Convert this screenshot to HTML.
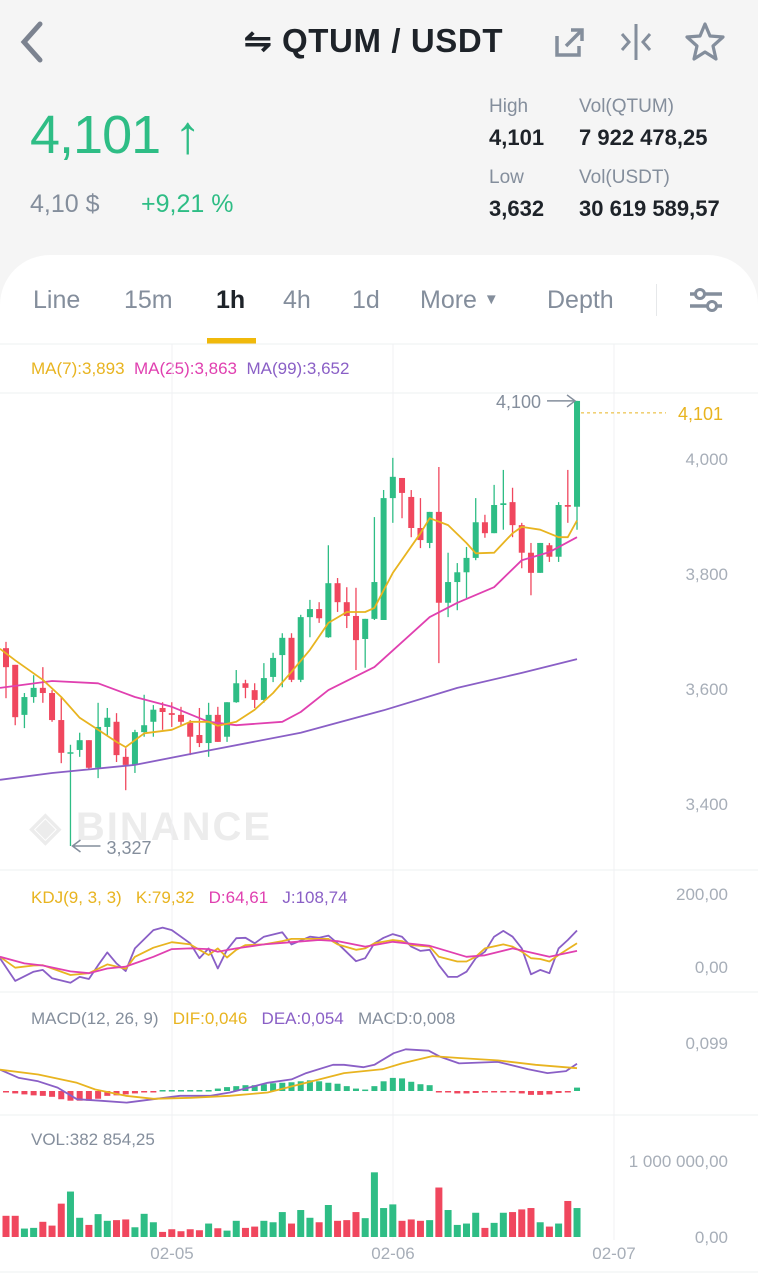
<!DOCTYPE html>
<html><head><meta charset="utf-8"><style>
*{margin:0;padding:0;box-sizing:border-box}
body{width:758px;height:1280px;background:#f5f5f5;font-family:"Liberation Sans",sans-serif;position:relative;overflow:hidden}
.a{position:absolute;white-space:nowrap}
.g{color:#848e9c}
</style></head><body>
<div class="a" style="left:0;top:0;width:758px;height:90px">
<svg class="a" style="left:14px;top:20px" width="34" height="44"><path d="M26 4 L10 22 L26 40" stroke="#7c8390" stroke-width="5" fill="none" stroke-linecap="round"/></svg>
<div class="a" style="left:244px;top:21px;font-size:33px;font-weight:bold;color:#1e2329;letter-spacing:0.6px">⇋ QTUM / USDT</div>
<svg class="a" style="left:552px;top:24px" width="36" height="36"><path d="M5 12 V31 H27 V22" stroke="#848e9c" stroke-width="3.5" fill="none"/><path d="M14 22 L29 7 M19 6 H30 V17" stroke="#848e9c" stroke-width="3.5" fill="none"/></svg>
<svg class="a" style="left:616px;top:22px" width="42" height="40"><path d="M20 2 V38" stroke="#848e9c" stroke-width="3"/><path d="M6 12 L13 20 L6 28 M34 12 L27 20 L34 28" stroke="#848e9c" stroke-width="3" fill="none"/></svg>
<svg class="a" style="left:683px;top:20px" width="44" height="42"><path d="M22 4 L27 16 L40 17 L30 26 L33 39 L22 32 L11 39 L14 26 L4 17 L17 16 Z" stroke="#848e9c" stroke-width="3.2" fill="none" stroke-linejoin="round"/></svg>
</div>
<div class="a" style="left:30px;top:104px;font-size:54px;color:#2ebd85;letter-spacing:-1px">4,101 <span style="font-weight:bold">↑</span></div>
<div class="a g" style="left:30px;top:190px;font-size:25px">4,10 $</div>
<div class="a" style="left:141px;top:190px;font-size:25px;color:#2ebd85">+9,21 %</div>
<div class="a g" style="left:489px;top:96px;font-size:19px">High</div>
<div class="a" style="left:489px;top:125px;font-size:22px;color:#1e2329;font-weight:bold">4,101</div>
<div class="a g" style="left:579px;top:96px;font-size:19px">Vol(QTUM)</div>
<div class="a" style="left:579px;top:125px;font-size:22px;color:#1e2329;font-weight:bold">7 922 478,25</div>
<div class="a g" style="left:489px;top:167px;font-size:19px">Low</div>
<div class="a" style="left:489px;top:196px;font-size:22px;color:#1e2329;font-weight:bold">3,632</div>
<div class="a g" style="left:579px;top:167px;font-size:19px">Vol(USDT)</div>
<div class="a" style="left:579px;top:196px;font-size:22px;color:#1e2329;font-weight:bold">30 619 589,57</div>

<div class="a" style="left:0;top:255px;width:758px;height:1025px;background:#fff;border-radius:50px 50px 0 0"></div>
<div class="a g" style="left:33px;top:286px;font-size:25px">Line</div>
<div class="a g" style="left:124px;top:286px;font-size:25px">15m</div>
<div class="a" style="left:216px;top:286px;font-size:25px;color:#1e2329;font-weight:bold">1h</div>
<div class="a" style="left:207px;top:338px;width:49px;height:6px;background:#f0b90b"></div>
<div class="a g" style="left:283px;top:286px;font-size:25px">4h</div>
<div class="a g" style="left:352px;top:286px;font-size:25px">1d</div>
<div class="a g" style="left:420px;top:286px;font-size:25px">More <span style="font-size:15px;position:relative;top:-4px">▼</span></div>
<div class="a g" style="left:547px;top:286px;font-size:25px">Depth</div>
<div class="a" style="left:656px;top:284px;width:1px;height:32px;background:#e6e8ea"></div>
<svg class="a" style="left:688px;top:284px" width="36" height="32"><path d="M2 10 H34 M2 22 H34" stroke="#848e9c" stroke-width="3.5"/><circle cx="12" cy="10" r="4.5" fill="#fff" stroke="#848e9c" stroke-width="3"/><circle cx="24" cy="22" r="4.5" fill="#fff" stroke="#848e9c" stroke-width="3"/></svg>

<div class="a" style="left:31px;top:359px;font-size:17px"><span style="color:#e8b420">MA(7):3,893</span>&nbsp;&nbsp;<span style="color:#e040b0">MA(25):3,863</span>&nbsp;&nbsp;<span style="color:#8a5fc6">MA(99):3,652</span></div>
<div class="a" style="left:31px;top:888px;font-size:17px"><span style="color:#e8b420">KDJ(9, 3, 3)&nbsp;&nbsp;&nbsp;K:79,32</span>&nbsp;&nbsp;&nbsp;<span style="color:#e040b0">D:64,61</span>&nbsp;&nbsp;&nbsp;<span style="color:#8a5fc6">J:108,74</span></div>
<div class="a" style="left:31px;top:1009px;font-size:17px"><span style="color:#848e9c">MACD(12, 26, 9)</span>&nbsp;&nbsp;&nbsp;<span style="color:#e8b420">DIF:0,046</span>&nbsp;&nbsp;&nbsp;<span style="color:#8a5fc6">DEA:0,054</span>&nbsp;&nbsp;&nbsp;<span style="color:#848e9c">MACD:0,008</span></div>
<div class="a g" style="left:31px;top:1130px;font-size:17px">VOL:382 854,25</div>
<div class="a" style="left:30px;top:804px;font-size:40px;font-weight:bold;color:#ececec;letter-spacing:2px">◈ BINANCE</div>

<svg class="a" id="chart" style="left:0;top:0" width="758" height="1280"></svg>

<script>
// price data (milli-USDT)
const opens=[3671,3642,3555,3586,3602,3593,3546,3489,3494,3511,3463,3534,3543,3482,3468,3525,3543,3567,3558,3555,3541,3520,3506,3555,3517,3577,3610,3598,3581,3621,3659,3689,3616,3725,3739,3690,3784,3751,3727,3687,3722,3720,3932,3967,3934,3880,3854,3908,3750,3786,3803,3828,3890,3871,3920,3925,3885,3837,3802,3850,3830,3920,3917];
const highs=[3682,3642,3593,3624,3638,3598,3586,3503,3524,3511,3576,3567,3558,3497,3529,3590,3572,3577,3577,3569,3546,3567,3576,3569,3577,3633,3616,3610,3645,3663,3697,3697,3729,3755,3751,3850,3793,3777,3776,3722,3899,3946,4002,3967,3946,3932,3908,3986,3837,3819,3847,3932,3903,3955,3981,3950,3889,3854,3854,3854,3925,3981,4101];
const lows=[3584,3537,3532,3576,3576,3543,3471,3327,3482,3461,3445,3520,3473,3424,3454,3517,3517,3529,3534,3537,3485,3499,3482,3508,3508,3576,3584,3567,3576,3612,3603,3612,3612,3690,3715,3689,3734,3706,3633,3637,3720,3720,3889,3897,3864,3845,3845,3645,3725,3737,3758,3824,3863,3871,3877,3864,3810,3763,3802,3821,3821,3889,3877];
const closes=[3638,3551,3586,3602,3593,3546,3489,3490,3511,3463,3534,3550,3485,3468,3525,3537,3564,3560,3555,3543,3517,3506,3555,3508,3577,3610,3602,3581,3619,3654,3689,3616,3725,3739,3723,3784,3751,3727,3685,3722,3786,3932,3969,3941,3880,3859,3908,3750,3786,3803,3828,3890,3871,3920,3923,3885,3837,3802,3854,3830,3920,3917,4101];
const volumes=[279,279,111,120,200,150,439,598,253,159,301,213,222,231,128,305,194,67,102,76,102,89,177,115,84,213,120,137,213,194,328,177,355,253,194,421,213,222,328,248,851,381,429,213,231,213,222,651,355,159,177,319,120,186,319,328,363,381,194,137,177,474,381];
const ma7Idx=[-1,1,4,6,8,10,12,13,15,18,20,22,23,25,27,29,31,33,35,37,39,40,42,45,46,48,50,51,53,55,56,58,60,61,62];
const ma7Val=[3670,3650,3616,3586,3550,3529,3508,3499,3523,3529,3543,3543,3536,3543,3564,3593,3630,3668,3715,3734,3734,3741,3802,3871,3897,3885,3854,3836,3837,3871,3882,3877,3864,3864,3893];
const ma25Idx=[-1,5,10,14,18,22,25,30,32,35,40,46,49,53,56,59,62];
const ma25Val=[3602,3614,3610,3586,3569,3543,3537,3543,3560,3598,3638,3725,3750,3777,3824,3838,3864];
const ma99Idx=[-1,5,14,21,32,41,49,56,62];
const ma99Val=[3442,3454,3468,3490,3524,3563,3602,3628,3652];
const priceTicks=[4000,3800,3600,3400];
const kIdx=[-1,1,3,4,7,9,11,13,14,16,18,20,21,22,23,24,25,26,28,30,31,33,35,36,38,39,40,42,43,44,46,47,49,50,51,52,54,55,56,57,58,59,60,62];
const kVal=[28,-2,4,5,-22,-17,7,-5,28,53,68,62,47,33,51,26,47,60,62,71,77,77,77,62,47,51,65,74,71,60,56,28,15,15,28,51,62,56,42,24,22,15,33,65];
const dIdx=[-1,2,4,7,9,11,13,16,18,20,22,23,25,28,31,34,36,39,42,46,50,52,55,59,62];
const dVal=[28,10,4,-12,-17,-4,1,28,49,51,49,42,51,62,68,74,71,56,69,58,28,32,51,28,44];
const jIdx=[-1,1,3,4,5,7,8,9,10,11,12,13,14,16,17,18,20,21,22,23,24,25,26,27,28,30,31,33,34,35,36,38,39,40,41,42,43,44,45,46,47,48,49,50,51,52,53,54,55,56,57,58,59,60,61,62];
const jVal=[24,-38,-13,-8,-31,-43,-27,-33,5,40,10,-11,51,101,108,101,65,24,51,-4,47,79,80,65,83,95,62,83,80,86,65,16,24,65,80,90,83,56,44,47,5,-27,-27,-13,24,42,83,99,83,51,-20,-8,-17,51,74,100];
const kdjTicks=["200,00","0,00"];
const difIdx=[-0.65,3.5,7.7,9.7,13,16,20.1,24.3,28.4,32.6,36.7,40.9,43,46.3,49.2,53.4,57.5,62];
const difVal=[44,34,17,3,-10,-16,-14,-10,-3,17,37,45,57,72,68,63,54,47];
const deaIdx=[-0.65,1.4,3.5,5.6,7.7,10.2,13.1,16,18.9,22.2,24.3,28.4,31,32.6,35.5,36.7,38.8,40,42.1,43.4,45.9,47.1,49.2,53.4,56.7,58.8,60.8,62];
const deaVal=[44,27,20,7,-17,-20,-24,-17,-10,-10,-3,17,24,37,54,54,49,54,78,86,83,71,57,60,45,37,41,56];
const macdHist=[-3,-5,-7,-9,-10,-12,-17,-20,-20,-20,-16,-10,-9,-7,-5,-3,-2,2,2,2,2,2,2,5,8,10,12,12,14,16,17,18,20,22,20,17,15,10,5,3,10,20,27,26,19,14,12,-2,-3,-5,-5,-4,-3,-2,-2,-3,-5,-8,-8,-7,-4,-2,7];
const dateLabels=["02-05","02-06","02-07"];

const NS="http://www.w3.org/2000/svg";
const svg=document.getElementById('chart');
const GREEN="#2ebd85",RED="#f0475e",Y="#e8b420",M="#e040b0",P="#8a5fc6";
const xAt=i=>6+i*9.21;
const yP=p=>459+(4000-p)*0.575;
const yK=v=>967-v*0.365;
const yM=v=>1091-v*0.485;
const yV=v=>1237-v*0.076;
function mk(tag,attrs){const e=document.createElementNS(NS,tag);for(const k in attrs)e.setAttribute(k,attrs[k]);svg.appendChild(e);return e;}

[344,393,870,992,1115].forEach(y=>{const l=mk('line',{x1:0,x2:758,y1:y,y2:y,stroke:'#eef0f2','stroke-width':1});

});
[172,393,614].forEach(x=>{const l=mk('line',{x1:x,x2:x,y1:344,y2:1240,stroke:'#f0f1f3','stroke-width':1});

});

priceTicks.forEach(p=>{const t=mk('text',{x:728,y:yP(p)+6,'text-anchor':'end','font-size':17,fill:'#a7aeb8','font-family':'Liberation Sans'});


t.textContent=(p/1000).toFixed(3).replace('.',',');});

opens.forEach((o,i)=>{const c=closes[i],col=c>=o?GREEN:RED,x=xAt(i);
const w=mk('line',{x1:x,x2:x,y1:yP(highs[i]),y2:yP(lows[i]),stroke:col,'stroke-width':1.3});


const top=yP(Math.max(o,c)),h=Math.max(1.5,Math.abs(yP(o)-yP(c)));
const b=mk('rect',{x:x-3,y:top,width:6,height:h,fill:col});

});

function line(idx,val,fy,col,name){const d=idx.map((i,k)=>(k?'L':'M')+Math.max(0,xAt(i)).toFixed(1)+' '+fy(val[k]).toFixed(1)).join(' ');
const p=mk('path',{d:d,stroke:col,fill:'none','stroke-width':1.8,'stroke-linejoin':'round'});

}
line(ma99Idx,ma99Val,yP,P,'ma99-line');
line(ma25Idx,ma25Val,yP,M,'ma25-line');
line(ma7Idx,ma7Val,yP,Y,'ma7-line');

const last=closes[closes.length-1];
const dl=mk('line',{x1:xAt(62)+4,x2:666,y1:yP(last)+12,y2:yP(last)+12,stroke:Y,'stroke-dasharray':'3,3','stroke-width':1});


const lt=mk('text',{x:678,y:yP(last)+19,'font-size':18,fill:Y,'font-family':'Liberation Sans'});


lt.textContent=(last/1000).toFixed(3).replace('.',',');
const hiI=highs.indexOf(Math.max(...highs)),loI=lows.indexOf(Math.min(...lows));
const hy=yP(highs[hiI]);
const ha=mk('path',{d:`M${xAt(hiI)-30} ${hy} H${xAt(hiI)-2} M${xAt(hiI)-10} ${hy-6} L${xAt(hiI)-2} ${hy} L${xAt(hiI)-10} ${hy+6}`,stroke:'#848e9c',fill:'none','stroke-width':1.5});


const ht=mk('text',{x:xAt(hiI)-36,y:hy+7,'text-anchor':'end','font-size':18,fill:'#848e9c','font-family':'Liberation Sans'});


ht.textContent="4,100";
const ly=yP(lows[loI]);
const la=mk('path',{d:`M${xAt(loI)+2} ${ly} H${xAt(loI)+30} M${xAt(loI)+10} ${ly-6} L${xAt(loI)+2} ${ly} L${xAt(loI)+10} ${ly+6}`,stroke:'#848e9c',fill:'none','stroke-width':1.5});


const lt2=mk('text',{x:xAt(loI)+36,y:ly+8,'font-size':18,fill:'#848e9c','font-family':'Liberation Sans'});


lt2.textContent=(lows[loI]/1000).toFixed(3).replace('.',',');

[[200,kdjTicks[0]],[0,kdjTicks[1]]].forEach(([v,s])=>{const t=mk('text',{x:728,y:yK(v)+6,'text-anchor':'end','font-size':17,fill:'#a7aeb8','font-family':'Liberation Sans'});


t.textContent=s;});
line(jIdx,jVal,yK,P,'kdj-j-line');
line(kIdx,kVal,yK,Y,'kdj-k-line');
line(dIdx,dVal,yK,M,'kdj-d-line');

const mt=mk('text',{x:728,y:yM(99)+6,'text-anchor':'end','font-size':17,fill:'#a7aeb8','font-family':'Liberation Sans'});


mt.textContent="0,099";
macdHist.forEach((v,i)=>{const y0=yM(0),y1=yM(v);
const r=mk('rect',{x:xAt(i)-3,y:Math.min(y0,y1),width:6,height:Math.max(1.5,Math.abs(y1-y0)),fill:v>=0?GREEN:RED});

});
line(deaIdx,deaVal,yM,P,'macd-dea-line');
line(difIdx,difVal,yM,Y,'macd-dif-line');

[[1000,"1 000 000,00"],[0,"0,00"]].forEach(([v,s])=>{const t=mk('text',{x:728,y:yV(v)+6,'text-anchor':'end','font-size':17,fill:'#a7aeb8','font-family':'Liberation Sans'});


t.textContent=s;});
volumes.forEach((v,i)=>{const r=mk('rect',{x:xAt(i)-3.5,y:yV(v),width:7,height:v*0.076,fill:closes[i]>=opens[i]?GREEN:RED});

});

dateLabels.forEach((s,k)=>{const t=mk('text',{x:[172,393,614][k],y:1259,'text-anchor':'middle','font-size':17,fill:'#a7aeb8','font-family':'Liberation Sans'});


t.textContent=s;});
const bl=mk('line',{x1:0,x2:758,y1:1272,y2:1272,stroke:'#eef0f2'});


</script>
</body></html>
